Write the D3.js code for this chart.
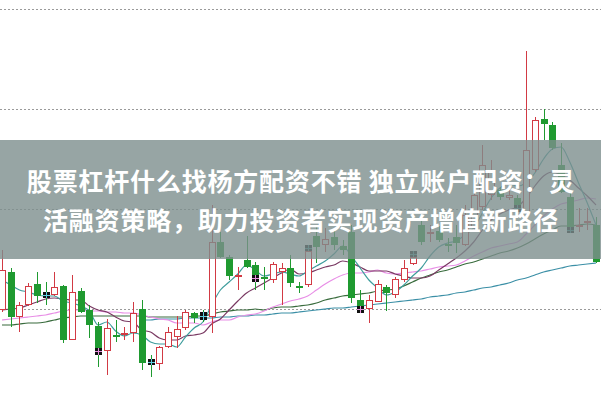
<!DOCTYPE html>
<html><head><meta charset="utf-8">
<script src="https://cdn.jsdelivr.net/npm/d3@7"></script>
<style>html,body{margin:0;padding:0;background:#fff;}svg{display:block;}</style>
</head><body>
<svg id="c" width="601" height="400"></svg>
<script>
// ---- data (price units) ----
const opens  = [9.9,13.7,9.2,10.4,12.5,11.7,11.4,12.3,6.9,11.8,9.9,8.3,5.8,7.4,7.4,7.6,10.0,5.0,4.5,6.2,7.2,8.1,9.6,9.7,9.2,16.7,15.2,13.2,14.9,14.4,13.2,12.9,13.7,14.1,12.3,12.4,17.3,16.4,17.2,16.3,17.7,10.9,10.0,10.7,12.2,11.4,12.9,14.5,18.4,17.5,17.8,16.5,17.2,16.4,18.1,20.2,21.4,21.9,21.1,21.1,19.7,23.9,29.0,28.4,24.4,21.2,18.2,18.6,18.4];
const closes = [13.9,9.2,10.4,12.3,11.3,11.1,12.2,6.9,11.7,9.7,8.4,5.4,8.1,7.2,7.6,9.6,4.6,4.4,6.2,7.7,8.0,9.7,9.1,8.9,16.7,15.2,13.3,13.4,14.2,12.7,13.0,14.5,14.1,12.6,12.1,15.8,16.2,17.0,16.4,15.9,11.1,10.3,10.9,12.5,11.6,13.0,14.1,15.2,16.7,17.7,16.9,16.3,16.6,19.4,21.4,24.4,23.9,21.2,21.4,20.4,25.9,28.9,28.5,26.1,21.7,18.2,18.4,18.8,14.7];
const highs  = [15.9,14.1,10.7,12.6,13.7,12.7,13.7,12.4,13.4,12.1,10.4,8.7,9.0,8.9,8.2,10.7,10.9,5.4,6.3,8.2,9.3,9.9,9.7,9.9,20.4,17.7,15.4,14.2,17.3,14.7,14.2,14.7,14.6,15.4,12.7,16.4,18.4,18.1,18.1,16.9,18.4,11.9,11.4,12.9,12.4,13.2,14.9,15.8,18.9,18.4,18.3,17.1,18.4,20.4,22.4,26.4,24.9,22.2,21.9,21.4,35.8,29.2,30.0,28.7,26.6,21.6,20.1,20.1,19.2];
const lows   = [9.7,8.2,7.7,10.3,10.6,10.4,11.3,6.6,6.9,9.6,7.1,4.2,3.4,6.7,6.9,6.7,3.9,3.2,3.9,6.1,6.1,7.9,8.6,8.7,7.6,15.1,12.9,11.9,14.1,11.9,11.9,12.6,10.4,12.2,11.6,12.2,14.6,15.7,15.9,15.4,10.6,9.6,8.6,10.7,9.8,11.1,12.7,14.4,16.4,16.7,16.7,15.7,15.6,16.3,17.7,19.9,20.9,20.9,20.9,20.2,19.4,23.7,26.9,25.9,21.6,17.6,17.7,17.9,14.6];

const ma5  = [12.9,12.4,11.9,11.7,11.4,11.3,11.3,10.8,10.6,10.3,9.8,8.4,8.7,7.8,7.3,7.6,7.4,6.7,6.5,6.5,6.2,7.2,8.1,8.7,10.4,11.9,12.7,13.5,14.4,13.9,13.3,13.5,13.7,13.5,13.3,13.8,14.3,14.8,15.5,16.3,15.3,14.1,12.9,12.1,11.4,11.7,12.4,13.3,14.1,15.3,16.2,16.6,16.8,17.4,18.1,19.6,21.1,22.1,22.5,22.3,22.6,23.6,25.0,26.0,26.2,24.7,22.6,20.6,18.4];
const ma10 = [9.9,10.0,10.1,10.4,10.7,11.0,11.1,11.0,10.9,10.9,10.3,9.9,9.7,9.2,8.8,8.7,7.9,7.7,7.1,6.9,6.9,7.3,7.4,7.6,8.5,9.0,9.9,10.8,11.6,12.1,12.6,13.1,13.6,14.0,13.5,13.6,13.9,14.2,14.4,14.8,14.6,14.2,13.8,13.8,13.8,13.5,13.3,13.1,13.1,13.3,13.9,14.5,15.1,15.8,16.7,17.9,18.9,19.5,19.9,20.2,21.1,22.3,23.3,23.7,23.4,22.9,22.1,21.3,20.4];
const ma20 = [8.9,9.0,9.1,9.2,9.3,9.4,9.6,9.8,9.9,9.9,9.8,9.8,9.7,9.7,9.6,9.6,9.4,9.2,9.0,8.9,8.6,8.6,8.6,8.4,8.7,8.9,8.9,9.2,9.4,9.5,9.8,10.2,10.5,10.8,11.0,11.3,11.9,12.5,13.0,13.4,13.6,13.6,13.7,13.9,13.6,13.5,13.6,13.7,13.8,14.0,14.2,14.3,14.4,14.8,15.3,15.7,16.1,16.3,16.5,16.7,17.5,18.4,19.3,20.0,20.5,20.7,20.9,21.1,21.0];
const ma30 = [8.4,8.4,8.5,8.6,8.6,8.7,8.9,9.1,9.2,9.3,9.3,9.3,9.3,9.3,9.3,9.3,9.3,9.2,9.2,9.2,9.2,9.2,9.3,9.3,9.5,9.7,9.8,9.9,9.9,10.0,9.9,10.1,10.2,10.2,10.3,10.4,10.6,10.9,11.1,11.3,11.4,11.5,11.6,11.8,11.9,12.0,12.3,12.7,13.1,13.4,13.7,13.9,14.2,14.5,14.7,15.0,15.3,15.6,15.8,16.1,16.5,17.0,17.5,17.9,18.3,18.3,18.4,18.5,18.4];
const ma60 = [null,null,null,null,null,null,null,null,null,null,null,null,null,null,null,null,8.9,8.9,9.0,9.0,9.0,9.1,9.1,9.1,9.1,9.2,9.2,9.3,9.3,9.4,9.4,9.5,9.6,9.6,9.7,9.8,9.9,10.0,10.1,10.1,10.2,10.3,10.4,10.5,10.6,10.7,10.8,10.9,11.0,11.2,11.3,11.4,11.6,11.7,11.9,12.1,12.2,12.4,12.6,12.9,13.1,13.4,13.7,13.9,14.1,14.3,14.4,14.5,14.6];

// special black marker candles: index, top, bottom, accent
const markIdx    = [5,11,17,23,29,35,41,47,59,65];
const markTop    = [11.7,6.1,5.0,9.7,13.4,16.4,10.3,15.8,20.4,18.2];
const markBottom = [11.1,5.4,4.4,8.9,12.7,15.8,9.6,15.2,19.7,17.6];
const markAccent = ["#5fd0e0","#e890e0","#5fd0e0","#5fd0e0","#e890e0","#3a8a8a","#e890e0","#3a8a8a","#3a8a8a","#3a8a8a"];

const gridTicks = [10,20,30,40];
const titleLines = ["股票杠杆什么找杨方配资不错 独立账户配资：灵","活融资策略，助力投资者实现资产增值新路径"];

// ---- drawing ----
const W = 601, H = 400;
const svg = d3.select("#c");
const n = opens.length;
const x = d3.scaleLinear().domain([0, n-1]).range([2, 596]);
const y = d3.scaleLinear().domain([0, 40]).range([409, 9]);

const RED = "#d23a44", GREEN = "#1f9a30";

// grid
svg.append("g").selectAll("line").data(gridTicks).join("line")
  .attr("x1",0).attr("x2",W)
  .attr("y1",d=>Math.round(y(d))+0.5).attr("y2",d=>Math.round(y(d))+0.5)
  .attr("stroke","#9a9a9a").attr("stroke-width",1).attr("stroke-dasharray","2,2");

// MA lines
const maSeries = [
  {v:ma60, c:"#3b8fa6"},
  {v:ma30, c:"#386b3c"},
  {v:ma20, c:"#e88ee6"},
  {v:ma10, c:"#7a3a63"},
  {v:ma5,  c:"#3f9d9d"}
];
const line = d3.line().defined(d=>d[1]!=null).x(d=>x(d[0])).y(d=>y(d[1])).curve(d3.curveMonotoneX);
svg.append("g").selectAll("path").data(maSeries).join("path")
  .attr("d",s=>line(s.v.map((v,i)=>[i,v])))
  .attr("fill","none").attr("stroke",s=>s.c).attr("stroke-width",1.2);

// candles
const cg = svg.append("g").attr("shape-rendering","crispEdges");
const idx = d3.range(n);
idx.forEach(i=>{
  const up = closes[i] >= opens[i];
  const col = up ? RED : GREEN;
  const cx = Math.round(x(i));
  const top = Math.round(y(Math.max(opens[i],closes[i])));
  const bot = Math.round(y(Math.min(opens[i],closes[i])));
  cg.append("line").attr("x1",cx+0.5).attr("x2",cx+0.5)
    .attr("y1",Math.round(y(highs[i]))).attr("y2",Math.round(y(lows[i])))
    .attr("stroke",col).attr("stroke-width",1);
  const h = Math.max(1, bot-top);
  if (up) {
    cg.append("rect").attr("x",cx-2.5).attr("y",top+0.5).attr("width",6).attr("height",Math.max(1,h-1))
      .attr("fill","#fff").attr("stroke",col).attr("stroke-width",1);
  } else {
    cg.append("rect").attr("x",cx-3).attr("y",top).attr("width",7).attr("height",h).attr("fill",col);
  }
});
// markers
markIdx.forEach((i,k)=>{
  const cx = Math.round(x(i));
  const t = Math.round(y(markTop[k])), b = Math.round(y(markBottom[k]));
  cg.append("rect").attr("x",cx-3).attr("y",t).attr("width",7).attr("height",b-t).attr("fill","#111");
  cg.append("line").attr("x1",cx-3).attr("x2",cx+4).attr("y1",t+Math.floor((b-t)/2)+0.5).attr("y2",t+Math.floor((b-t)/2)+0.5)
    .attr("stroke",markAccent[k]).attr("stroke-width",1);
  cg.append("line").attr("x1",cx+0.5).attr("x2",cx+0.5).attr("y1",t).attr("y2",b)
    .attr("stroke",markAccent[k]).attr("stroke-width",1);
});

// banner
svg.append("rect").attr("x",0).attr("y",140).attr("width",W).attr("height",119)
  .attr("fill","rgb(125,142,141)").attr("fill-opacity",0.8);
svg.append("g").selectAll("text").data(titleLines).join("text")
  .attr("x",301).attr("y",(d,i)=>[191,230][i])
  .attr("text-anchor","middle")
  .attr("font-family","'Noto Sans CJK SC','Noto Sans',sans-serif")
  .attr("font-weight",700).attr("font-size",25).attr("letter-spacing",0.8)
  .attr("fill","#fff").text(d=>d);
</script>
</body></html>
